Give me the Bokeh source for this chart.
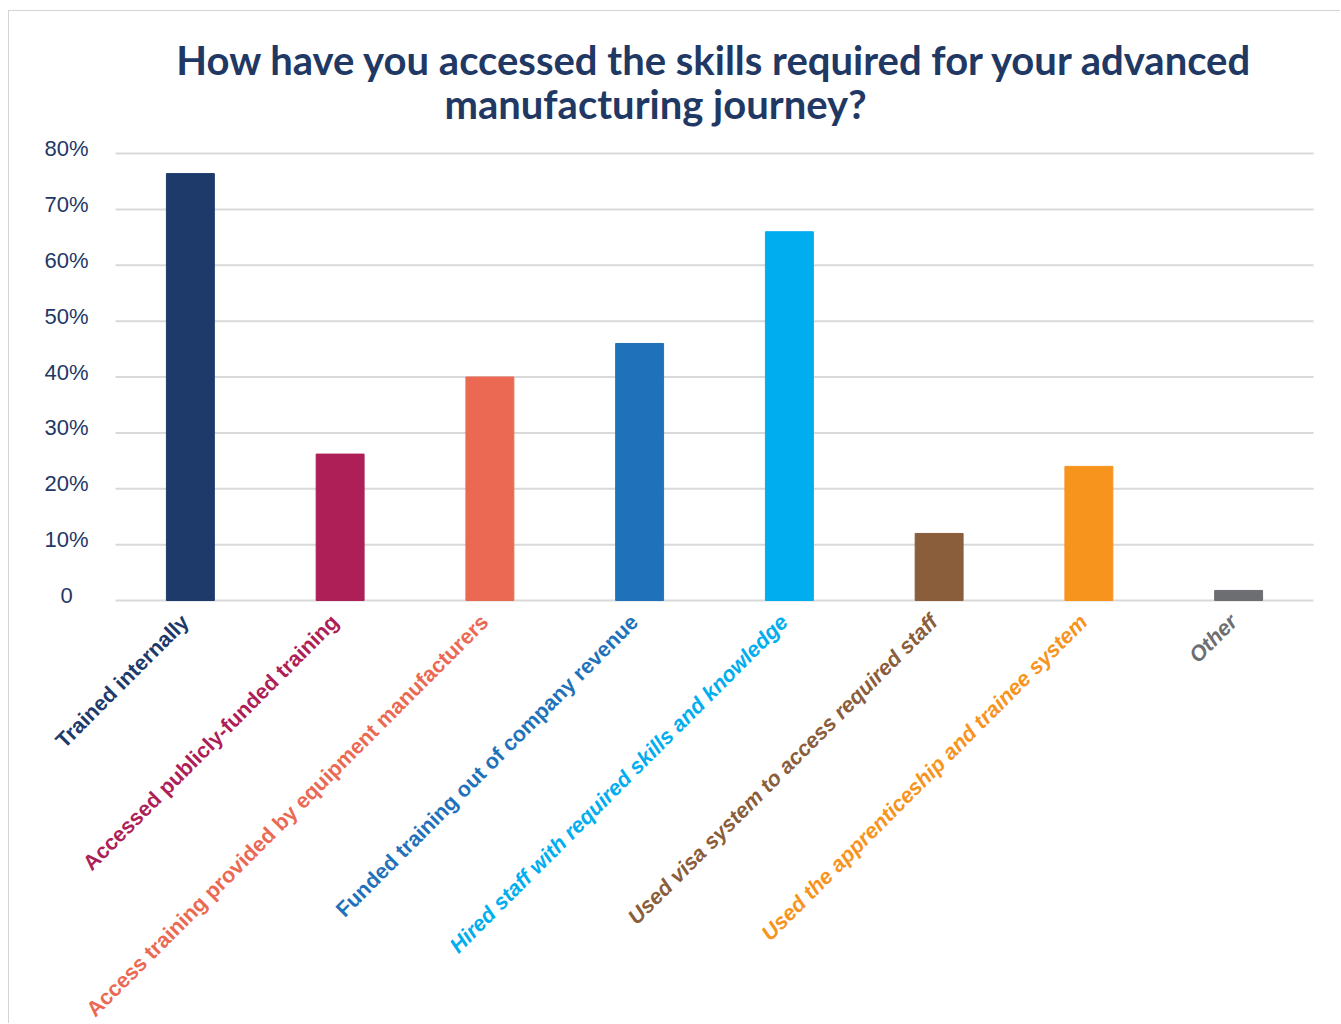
import math
from bokeh.plotting import figure
from bokeh.models import ColumnDataSource, Range1d
from bokeh.core.properties import value
from bokeh.embed import file_html
from bokeh.resources import INLINE

categories = [
    "Trained internally",
    "Accessed publicly-funded training",
    "Access training provided by equipment manufacturers",
    "Funded training out of company revenue",
    "Hired staff with required skills and knowledge",
    "Used visa system to access required staff",
    "Used the apprenticeship and trainee system",
    "Other",
]
values = [0.764, 0.262, 0.40, 0.46, 0.66, 0.12, 0.24, 0.018]
bar_colors = ["#1D3A6A", "#AD1F56", "#EB6952", "#1F72BA", "#00AEEF", "#8A5D3B", "#F7941D", "#6D6E71"]
label_colors = ["#1D3A6A", "#AD1F56", "#EB6952", "#1F72BA", "#00AEEF", "#8A5D3B", "#F7941D", "#6D6E71"]
label_italic = [False, False, False, False, True, True, True, True]
y_ticks = [0, 0.1, 0.2, 0.3, 0.4, 0.5, 0.6, 0.7, 0.8]
y_tick_labels = ["0", "10%", "20%", "30%", "40%", "50%", "60%", "70%", "80%"]
title_lines = ["How have you accessed the skills required for your advanced", "manufacturing journey?"]

NAVY = "#1F3864"
GRID = "#D9D9D9"

# ---- layout (pixels) ----
N = len(categories)
CANVAS_LEFT, CANVAS_TOP = 9, 11          # page position of the canvas (margin + 1px border)
W, H = 1332, 1013
PLOT_LEFT, PLOT_RIGHT = 115, 1313        # value-area edges on the page
ZERO_Y, TOP_Y = 600, 153                 # page y of 0 % and 80 %
CAT_PX = (PLOT_RIGHT - PLOT_LEFT) / N
PX_PER_UNIT = (ZERO_Y - TOP_Y) / 0.8

x_start = -(PLOT_LEFT - CANVAS_LEFT) / CAT_PX
x_end = N + (CANVAS_LEFT + W - PLOT_RIGHT) / CAT_PX
y_end = 0.8 + (TOP_Y - CANVAS_TOP) / PX_PER_UNIT
y_start = -(CANVAS_TOP + H - ZERO_Y) / PX_PER_UNIT

xs = [i + 0.5 for i in range(N)]
src = ColumnDataSource(dict(x=xs, cat=categories, val=values, color=bar_colors))

p = figure(x_range=Range1d(x_start, x_end), y_range=Range1d(y_start, y_end),
           width=W, height=H, margin=(10, 0, 0, 8),
           output_backend="svg", toolbar_location=None,
           min_border_left=0, min_border_right=0, min_border_top=0, min_border_bottom=0)
p.styles = {"border-top": "1px solid #d4d4d4", "border-left": "1px solid #d4d4d4"}
p.outline_line_color = None
p.background_fill_color = "white"
p.border_fill_color = "white"
p.xaxis.visible = False
p.yaxis.visible = False
p.xgrid.visible = False
p.ygrid.visible = False

# horizontal gridlines at the tick values
p.segment(x0=[0] * len(y_ticks), x1=[N] * len(y_ticks), y0=y_ticks, y1=y_ticks,
          line_color=GRID, line_width=2)

# bars
p.vbar(x="x", top="val", width=0.32, color="color", source=src)

# value-axis tick labels
p.text(x=[(66 - PLOT_LEFT) / CAT_PX] * len(y_ticks),
       y=[t + 5 / PX_PER_UNIT for t in y_ticks], text=y_tick_labels,
       text_align="center", text_baseline="middle",
       text_font=value("Liberation Sans"), text_font_size="22px", text_color=NAVY)

# rotated category labels, coloured like their bars
for italic in (False, True):
    idx = [i for i, it in enumerate(label_italic) if it == italic]
    lsrc = ColumnDataSource(dict(x=[xs[i] - 5 / CAT_PX for i in idx],
                                 y=[-18 / PX_PER_UNIT] * len(idx),
                                 cat=[categories[i] for i in idx],
                                 lcolor=[label_colors[i] for i in idx]))
    p.text(x="x", y="y", text="cat", source=lsrc, angle=math.pi / 4,
           text_align="right", text_baseline="middle",
           text_font=value("Liberation Sans"), text_font_size="21.5px",
           text_font_style="bold italic" if italic else "bold", text_color="lcolor")

# title (two lines)
title_x = [(715 - PLOT_LEFT) / CAT_PX, (655 - PLOT_LEFT) / CAT_PX]
title_y = [(ZERO_Y - 59) / PX_PER_UNIT, (ZERO_Y - 103) / PX_PER_UNIT]
p.text(x=title_x, y=title_y, text=title_lines, text_align="center", text_baseline="alphabetic",
       text_font=value("Lato"), text_font_style="bold", text_font_size="40px", text_color=NAVY)

open("out.html", "w").write(file_html(p, INLINE))
